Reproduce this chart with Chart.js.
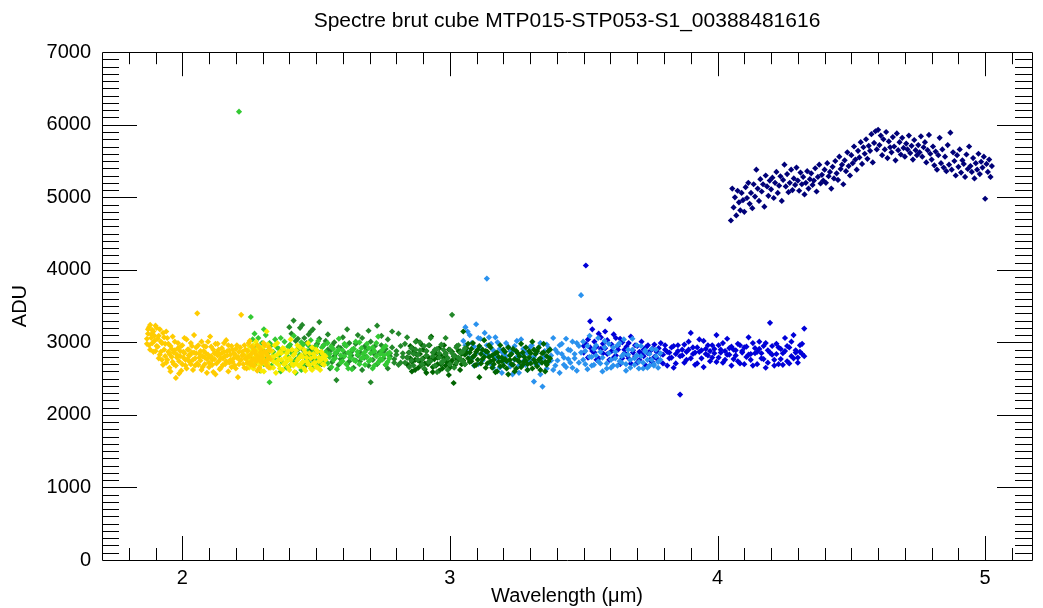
<!DOCTYPE html>
<html>
<head>
<meta charset="utf-8">
<script src="https://cdn.jsdelivr.net/npm/chart.js@4.4.1/dist/chart.umd.min.js"></script>
<style>
  body { margin: 0; background: #fff; }
</style>
</head>
<body>
<canvas id="myChart" width="1043" height="608"></canvas>
<script>
const titleText = 'Spectre brut cube MTP015-STP053-S1_00388481616';
const xTitle = 'Wavelength (\u03bcm)';
const yTitle = 'ADU';
const xTicks = [2, 3, 4, 5];
const yTicks = [0, 1000, 2000, 3000, 4000, 5000, 6000, 7000];

// gold channel (two readings per wavelength)
const goldX = [1.868,1.872,1.876,1.880,1.884,1.888,1.892,1.896,1.900,1.904,
  1.908,1.912,1.916,1.920,1.924,1.928,1.932,1.936,1.940,1.944,
  1.948,1.952,1.956,1.960,1.964,1.968,1.972,1.976,1.980,1.984,
  1.988,1.992,1.996,2.000,2.004,2.008,2.012,2.016,2.020,2.024,
  2.028,2.032,2.036,2.040,2.044,2.048,2.052,2.056,2.060,2.064,
  2.068,2.072,2.076,2.080,2.084,2.088,2.092,2.096,2.100,2.104,
  2.108,2.112,2.116,2.120,2.124,2.128,2.132,2.136,2.140,2.144,
  2.148,2.152,2.156,2.160,2.164,2.168,2.172,2.176,2.180,2.184,
  2.188,2.192,2.196,2.200,2.204,2.208,2.212,2.216,2.220,2.224,
  2.228,2.232,2.236,2.240,2.244,2.248,2.252,2.256,2.260,2.264,
  2.268,2.272,2.276,2.280,2.284,2.288,2.292,2.296,2.300,2.304,
  2.308,2.312,2.316,2.320,2.324,2.328];
const goldY = [3050,3180,2960,3240,3110,2990,3150,3020,2880,3200,
  2940,3090,2830,3010,2760,3130,2900,2980,2720,3060,
  2870,2650,2950,2800,3080,2700,2890,2510,2830,2990,
  2740,2880,2610,2960,2790,2850,2680,3040,2770,2900,
  2820,2700,2950,2620,2860,2780,2930,3400,2690,2840,
  2750,3010,2660,2880,2790,2940,2580,2830,2720,3080,
  2810,2690,2900,2770,2560,2860,2980,2740,2840,2650,
  2920,2780,2870,2700,3030,2820,2600,2890,2760,2950,
  2730,2850,2680,2910,2790,2520,2870,2750,3380,2820,
  2700,2960,2780,2640,2880,2810,3020,2730,2850,2690,
  2900,2770,2830,2610,2950,2760,2860,2720,2800,2990,
  2740,2870,2680,2810,2930,2770];
const goldY2 = [2980,3120,3210,2900,3060,3170,2870,3090,3230,2950,
  3050,2780,3180,2870,2990,2690,3070,2810,3150,2760,
  2980,2840,2600,2910,2730,2860,3010,2680,2790,2920,
  2570,2810,2950,2700,2870,3060,2760,2640,2900,2820,
  2730,2990,2860,2760,3100,2680,2850,2710,2960,2790,
  2880,2620,2810,2950,2700,2850,2770,3010,2660,2800,
  2940,2760,2590,2850,2980,2710,2820,2900,2630,2780,
  2850,2690,2990,2810,2740,2880,2960,2720,2830,2660,
  2900,2780,2840,2640,2960,2800,2700,2930,2760,2870,
  2830,2650,2900,2780,2720,2990,2810,2690,2940,2770,
  2680,2880,2740,2960,2800,2650,2910,2820,2730,2870,
  2960,2720,2840,2770,2650,2890];

// yellow channel
const yellowX = [2.240,2.245,2.250,2.255,2.260,2.265,2.270,2.275,2.280,2.285,
  2.290,2.295,2.300,2.305,2.310,2.315,2.320,2.325,2.330,2.335,
  2.340,2.345,2.350,2.355,2.360,2.365,2.370,2.375,2.380,2.385,
  2.390,2.395,2.400,2.405,2.410,2.415,2.420,2.425,2.430,2.435,
  2.440,2.445,2.450,2.455,2.460,2.465,2.470,2.475,2.480,2.485,
  2.490,2.495,2.500,2.505,2.510,2.515,2.520,2.525,2.530,2.535];
const yellowY = [2820,2700,2950,2760,2880,2640,2790,3010,2730,2860,
  2680,2920,2770,2600,2840,3150,2710,2890,2650,2800,
  2740,2960,2580,2830,2690,2870,2760,2620,2910,2720,
  2850,2660,2780,3040,2700,2820,2590,2890,2750,2680,
  2930,2710,2800,2640,2860,2740,2990,2690,2780,2620,
  2840,2720,2900,2660,2790,2750,2870,2700,2810,2760];
const yellowY2 = [2760,2890,2650,2830,2720,2960,2680,2800,2910,2740,
  2850,2610,2780,2940,2700,2830,2970,2660,2790,2880,
  2650,2810,2720,2990,2760,2640,2850,2920,2700,2790,
  2730,2880,2620,2760,2900,2680,2840,2710,2960,2780,
  2670,2820,2730,2900,2610,2790,2700,2850,2640,2930,
  2710,2800,2660,2870,2740,2620,2780,2840,2690,2810];

// light green channel (first entry is the isolated spike)
const limeX = [2.212,2.256,2.263,2.270,2.277,2.284,2.291,2.298,2.305,2.312,2.319,
  2.326,2.333,2.340,2.347,2.354,2.361,2.368,2.375,2.382,2.389,
  2.396,2.403,2.410,2.417,2.424,2.431,2.438,2.445,2.452,2.459,
  2.466,2.473,2.480,2.487,2.494,2.501,2.508,2.515,2.522,2.529,
  2.536,2.543,2.550,2.557,2.564,2.571,2.578,2.585,2.592,2.599,
  2.606,2.613,2.620,2.627,2.634,2.641,2.648,2.655,2.662,2.669,
  2.676,2.683,2.690,2.697,2.704,2.711,2.718,2.725,2.732,2.739,
  2.746,2.753,2.760,2.767,2.774];
const limeY = [6180,3350,2930,3120,2850,3060,2780,2990,2700,3100,2880,
  2450,2960,2820,3040,2740,2910,2600,2870,3010,2790,
  2940,2680,2850,3090,2760,2900,2830,2620,2970,2810,
  2880,2720,3030,2850,2770,2950,2690,2860,2930,2800,
  2740,2990,2840,2660,2910,2780,2870,3050,2720,2890,
  2810,2950,2640,2840,2900,2760,3010,2830,2700,2920,
  2790,2870,2980,2740,2850,2930,2680,2810,3080,2770,
  2890,2820,2950,2730,2860];
const limeY2 = [null,2780,3040,2700,2960,2830,2610,2900,3180,2760,2850,
  2990,2680,2870,2760,2930,2820,3060,2720,2880,2650,
  2800,2970,2740,2860,2580,2910,2790,3000,2700,2860,
  2760,2950,2830,2650,2900,2780,3020,2740,2820,2960,
  2870,2710,2800,2940,2760,2850,2630,2900,2820,2740,
  2980,2700,2860,2790,2630,2910,2740,2870,3000,2780,
  2840,2690,2800,2920,2760,2640,2880,2990,2720,2840,
  2760,2930,2690,2840,2780];

// green channel
const forestX = [2.400,2.408,2.416,2.424,2.432,2.440,2.448,2.456,2.464,2.472,
  2.480,2.488,2.496,2.504,2.512,2.520,2.528,2.536,2.544,2.552,
  2.560,2.568,2.576,2.584,2.592,2.600,2.608,2.616,2.624,2.632,
  2.640,2.648,2.656,2.664,2.672,2.680,2.688,2.696,2.704,2.712,
  2.720,2.728,2.736,2.744,2.752,2.760,2.768,2.776,2.784,2.792,
  2.800,2.808,2.816,2.824,2.832,2.840,2.848,2.856,2.864,2.872,
  2.880,2.888,2.896,2.904,2.912,2.920,2.928,2.936,2.944,2.952,
  2.960,2.968,2.976,2.984,2.992,3.000,3.008,3.016,3.024,3.032,
  3.040,3.048,3.056];
const forestY = [3210,2880,3300,2760,3050,2940,3240,2820,2690,3110,
  2900,3180,2780,2980,3280,2850,2720,3020,2900,2640,
  2960,2810,2480,2930,2770,3070,2850,2700,2990,2820,
  2910,2750,3100,2860,2620,2940,2800,3160,2450,2890,
  2830,3230,2740,2960,2870,2690,3040,2810,2930,2770,
  2880,3120,2720,2850,2980,2790,2660,2920,2840,3010,
  2760,2890,2700,2950,2820,2730,3060,2860,2680,2910,
  2790,2970,2750,2840,2620,2900,3380,2810,2720,2960,
  2770,2870,2700];
const forestY2 = [2950,3120,2840,3020,2780,3200,2910,3060,2990,2830,
  3150,2760,2940,2870,3050,2700,2960,2810,3110,2880,
  2730,3000,2850,2690,2920,2790,2960,3180,2740,2870,
  2650,2980,2820,2740,3060,2790,2910,2680,3010,2760,
  2950,2700,2860,3090,2780,2910,2640,2850,3150,2720,
  2830,2690,2950,2800,2720,3070,2860,2750,2680,2900,
  2830,3000,2770,2640,2880,2960,2740,2810,2900,2590,
  2850,2720,2900,3060,2780,2700,2850,2650,2930,2790,
  2860,2740,2920];

// dark green channel
const darkX = [2.840,2.846,2.852,2.858,2.864,2.870,2.876,2.882,2.888,2.894,
  2.900,2.906,2.912,2.918,2.924,2.930,2.936,2.942,2.948,2.954,
  2.960,2.966,2.972,2.978,2.984,2.990,2.996,3.002,3.008,3.014,
  3.020,3.026,3.032,3.038,3.044,3.050,3.056,3.062,3.068,3.074,
  3.080,3.086,3.092,3.098,3.104,3.110,3.116,3.122,3.128,3.134,
  3.140,3.146,3.152,3.158,3.164,3.170,3.176,3.182,3.188,3.194,
  3.200,3.206,3.212,3.218,3.224,3.230,3.236,3.242,3.248,3.254,
  3.260,3.266,3.272,3.278,3.284,3.290,3.296,3.302,3.308,3.314,
  3.320,3.326,3.332,3.338,3.344,3.350,3.356,3.362,3.368,3.374];
const darkY = [2790,2680,2950,2730,2860,2620,3020,2750,2840,2690,
  2900,2710,2580,2800,2740,3080,2660,2770,2850,2700,
  2610,2820,2730,2960,2680,2790,2550,2720,2870,2440,
  2810,2950,2760,2880,2700,3150,2830,2920,2780,2860,
  2740,2990,2820,2690,2900,2520,2840,2770,3030,2880,
  2710,2800,2930,2650,2760,2850,2600,2730,2960,2790,
  2680,2870,2740,2560,2820,2700,2910,2770,2640,2850,
  2730,2980,2690,2800,2750,2620,2880,2710,3010,2760,
  2840,2670,2930,2780,2720,2860,2600,2810,2740,2900];
const darkY2 = [2700,2860,2780,2600,2910,2760,2830,2650,2740,2970,
  2780,2630,2880,2700,2960,2760,2590,2850,2680,2790,
  2920,2700,2640,2780,2850,2730,2900,2660,2750,2810,
  2690,2770,2880,2620,2840,2750,2700,2860,2980,2730,
  2910,2800,2680,2870,2760,2950,2710,2900,2800,2650,
  2870,2960,2740,2820,2700,2590,2860,2800,2670,2740,
  2900,2770,2640,2930,2760,2840,2690,2600,2880,2750,
  2810,2660,2860,2740,2930,2700,2790,2850,2640,2900,
  2720,2880,2760,2620,2850,2980,2730,2690,2880,2780];

// light blue channel
const skyX = [3.050,3.058,3.066,3.074,3.082,3.090,3.098,3.106,3.114,3.122,
  3.130,3.138,3.146,3.154,3.162,3.170,3.178,3.186,3.194,3.202,
  3.210,3.218,3.226,3.234,3.242,3.250,3.258,3.266,3.274,3.282,
  3.290,3.298,3.306,3.314,3.322,3.330,3.338,3.346,3.354,3.362,
  3.370,3.378,3.386,3.394,3.402,3.410,3.418,3.426,3.434,3.442,
  3.450,3.458,3.466,3.474,3.482,3.490,3.498,3.506,3.514,3.522,
  3.530,3.538,3.546,3.554,3.562,3.570,3.578,3.586,3.594,3.602,
  3.610,3.618,3.626,3.634,3.642,3.650,3.658,3.666,3.674,3.682,
  3.690,3.698,3.706,3.714,3.722,3.730,3.738,3.746,3.754,3.762,
  3.770,3.778,3.786];
const skyY = [3020,3210,2860,3100,2780,2940,3250,2700,3050,2890,
  3130,3880,2820,2980,2650,3070,2760,2910,2580,2840,
  2990,2720,2880,2560,2950,2800,2680,3040,2740,2870,
  2620,2930,2780,2460,2850,2700,2990,2390,2810,2640,
  2920,2750,3060,2680,2860,2580,2980,2790,2660,2900,
  2720,3010,2840,2610,2950,3650,2760,2880,2630,3090,
  2800,2690,2960,2740,2870,2600,3020,2710,2850,2650,
  2930,2780,2680,2990,2720,2840,2610,2900,2760,3050,
  2690,2820,2730,2950,2640,2870,2760,2680,2910,2700,
  2810,2650,2760];
const skyY2 = [2880,2960,3150,2780,2990,2680,2850,3060,2920,2750,
  2840,2960,3070,2700,2890,2800,3000,2650,2870,2730,
  2810,2940,2670,2870,2760,3020,2580,2830,2910,2690,
  2850,2740,2960,2800,2690,2920,2560,2780,2880,2970,
  2730,2820,2620,2900,2750,2960,2840,2690,3050,2770,
  2890,2650,2780,2990,2720,2860,3010,2700,2950,2800,
  2680,2910,2820,3060,2710,2790,2930,2640,2980,2760,
  2680,2870,2960,2740,2810,3040,2700,2830,2650,2900,
  2780,2960,2640,2810,2720,2890,2650,2840,2760,2680,
  2900,2730,2850];

// blue channel
const blueX = [3.500,3.508,3.516,3.524,3.532,3.540,3.548,3.556,3.564,3.572,
  3.580,3.588,3.596,3.604,3.612,3.620,3.628,3.636,3.644,3.652,
  3.660,3.668,3.676,3.684,3.692,3.700,3.708,3.716,3.724,3.732,
  3.740,3.748,3.756,3.764,3.772,3.780,3.788,3.796,3.804,3.812,
  3.820,3.828,3.836,3.844,3.852,3.860,3.868,3.876,3.884,3.892,
  3.900,3.908,3.916,3.924,3.932,3.940,3.948,3.956,3.964,3.972,
  3.980,3.988,3.996,4.004,4.012,4.020,4.028,4.036,4.044,4.052,
  4.060,4.068,4.076,4.084,4.092,4.100,4.108,4.116,4.124,4.132,
  4.140,4.148,4.156,4.164,4.172,4.180,4.188,4.196,4.204,4.212,
  4.220,4.228,4.236,4.244,4.252,4.260,4.268,4.276,4.284,4.292,
  4.300,4.308,4.316,4.324];
const blueY = [2950,4060,3040,3290,2880,3010,2760,3120,2910,2980,
  3150,2840,3320,2970,2790,3060,2900,2700,3000,2850,
  2940,2780,3080,2890,2960,2720,2870,3010,2810,2930,
  2850,2760,2910,2800,2870,2740,2990,2830,2900,2680,
  2860,2790,2950,2710,2880,2280,2820,2970,2760,2900,
  3130,2840,2690,2930,2870,2780,3020,2910,2820,2740,
  2960,2850,3100,2790,2900,2720,2880,3050,2830,2940,
  2770,2890,2980,2710,2860,2930,2800,3070,2840,2680,
  2920,2870,3010,2780,2950,2650,2890,3270,2830,2760,
  2980,2700,2910,2850,3060,2740,2930,2810,3100,2890,
  2790,2960,2840,3190];
const blueY2 = [2860,2980,2790,2930,3180,2860,2940,2780,3070,2850,
  2920,3030,2760,2880,3110,2820,2950,3050,2780,2900,
  2830,2990,2710,2860,2800,2950,2760,2840,2900,2680,
  2960,2880,2730,2970,2780,2920,2840,2710,2960,2870,
  2780,2930,2650,2840,2960,2810,2900,2720,2870,3010,
  2780,2930,2860,2710,3040,2890,2660,2840,2960,2880,
  2790,2910,2730,2960,2860,2990,2760,2830,2920,2680,
  2900,2820,2740,2960,2880,2700,2940,2830,2760,2990,
  2850,2700,2910,2850,2770,2990,2720,2860,2950,2680,
  2840,2930,2770,2690,2880,2950,2710,3010,2780,2860,
  2720,2870,2980,2810];

// navy channel
const navyX = [4.050,4.055,4.060,4.065,4.070,4.075,4.080,4.085,4.090,4.095,
  4.100,4.105,4.110,4.115,4.120,4.125,4.130,4.135,4.140,4.145,
  4.150,4.155,4.160,4.165,4.170,4.175,4.180,4.185,4.190,4.195,
  4.200,4.205,4.210,4.215,4.220,4.225,4.230,4.235,4.240,4.245,
  4.250,4.255,4.260,4.265,4.270,4.275,4.280,4.285,4.290,4.295,
  4.300,4.305,4.310,4.315,4.320,4.325,4.330,4.335,4.340,4.345,
  4.350,4.355,4.360,4.365,4.370,4.375,4.380,4.385,4.390,4.395,
  4.400,4.405,4.410,4.415,4.420,4.425,4.430,4.435,4.440,4.445,
  4.450,4.455,4.460,4.465,4.470,4.475,4.480,4.485,4.490,4.495,
  4.500,4.505,4.510,4.515,4.520,4.525,4.530,4.535,4.540,4.545,
  4.550,4.555,4.560,4.565,4.570,4.575,4.580,4.585,4.590,4.595,
  4.600,4.605,4.610,4.615,4.620,4.625,4.630,4.635,4.640,4.645,
  4.650,4.655,4.660,4.665,4.670,4.675,4.680,4.685,4.690,4.695,
  4.700,4.705,4.710,4.715,4.720,4.725,4.730,4.735,4.740,4.745,
  4.750,4.755,4.760,4.765,4.770,4.775,4.780,4.785,4.790,4.795,
  4.800,4.805,4.810,4.815,4.820,4.825,4.830,4.835,4.840,4.845,
  4.850,4.855,4.860,4.865,4.870,4.875,4.880,4.885,4.890,4.895,
  4.900,4.905,4.910,4.915,4.920,4.925,4.930,4.935,4.940,4.945,
  4.950,4.955,4.960,4.965,4.970,4.975,4.980,4.985,4.990,4.995,
  5.000,5.005,5.010,5.015,5.020,5.025];
const navyY = [4680,5120,4860,5000,4750,5090,4930,4820,5060,4960,
  4800,5140,4990,5200,4910,5060,4850,5180,5010,5380,
  5120,4950,5250,5080,5180,4870,5300,5150,5020,5230,
  5110,5270,4990,5200,5350,5060,5160,5290,4950,5240,
  5450,5150,5320,5070,5200,5380,5100,5260,5170,5410,
  5230,5090,5340,5180,5280,5040,5200,5360,5120,5250,
  5330,5170,5230,5400,5080,5280,5450,5190,5310,5230,
  5380,5200,5470,5290,5350,5120,5420,5260,5500,5330,
  5240,5560,5390,5450,5180,5510,5360,5620,5430,5300,
  5580,5470,5700,5520,5380,5640,5550,5760,5460,5690,
  5600,5800,5530,5710,5640,5870,5480,5750,5910,5660,
  5930,5720,5850,5580,5800,5660,5900,5540,5770,5690,
  5620,5830,5700,5510,5880,5650,5760,5590,5820,5680,
  5560,5740,5660,5850,5610,5710,5520,5790,5650,5580,
  5720,5620,5840,5560,5690,5760,5480,5650,5860,5600,
  5520,5700,5440,5630,5380,5580,5820,5470,5660,5410,
  5560,5360,5720,5450,5890,5380,5620,5500,5300,5580,
  5420,5660,5340,5510,5460,5280,5590,5390,5700,5430,
  5350,5540,5260,5470,5380,5600,5320,5490,5410,5560,
  4980,5460,5350,5520,5280,5430];

const series = [
  { x: goldX, ys: [goldY, goldY2], color: '#FFCC00' },
  { x: yellowX, ys: [yellowY, yellowY2], color: '#F8EC00' },
  { x: limeX, ys: [limeY, limeY2], color: '#33C933' },
  { x: forestX, ys: [forestY, forestY2], color: '#23882A' },
  { x: darkX, ys: [darkY, darkY2], color: '#006400' },
  { x: skyX, ys: [skyY, skyY2], color: '#2A92EE' },
  { x: blueX, ys: [blueY, blueY2], color: '#0000D8' },
  { x: navyX, ys: [navyY], color: '#000078' }
];

const fontFamily = '"Liberation Sans", Arial, Helvetica, sans-serif';

// IDL-like box with inward ticks on all four sides
const idlFrame = {
  id: 'idlFrame',
  afterDatasetsDraw(chart) {
    const { ctx, chartArea: a, scales: { x, y } } = chart;
    const px = v => Math.round(x.getPixelForValue(v)) + 0.5;
    const py = v => Math.round(y.getPixelForValue(v)) + 0.5;
    ctx.save();
    ctx.strokeStyle = '#000';
    ctx.lineWidth = 1;
    ctx.beginPath();
    ctx.rect(Math.round(a.left) + 0.5, Math.round(a.top) + 0.5,
      Math.round(a.right - a.left), Math.round(a.bottom - a.top));
    // x ticks, minor every 0.1
    for (let k = Math.ceil(x.min * 10 + 1e-6); k / 10 < x.max - 1e-6; k++) {
      const len = (k % 10 === 0) ? 24 : 12;
      const X = px(k / 10);
      ctx.moveTo(X, a.bottom); ctx.lineTo(X, a.bottom - len);
      ctx.moveTo(X, a.top); ctx.lineTo(X, a.top + len);
    }
    // y ticks, minor every 100
    for (let k = Math.ceil(y.min / 100) + 1; k * 100 < y.max; k++) {
      const len = (k % 10 === 0) ? 35 : 17;
      const Y = py(k * 100);
      ctx.moveTo(a.left, Y); ctx.lineTo(a.left + len, Y);
      ctx.moveTo(a.right, Y); ctx.lineTo(a.right - len, Y);
    }
    ctx.stroke();
    ctx.restore();
  }
};

const datasets = [];
series.forEach(s => {
  s.ys.forEach(ys => {
    datasets.push({
      data: s.x.map((v, i) => ({ x: v, y: ys[i] })).filter(p => p.y !== null),
      backgroundColor: s.color,
      borderColor: s.color,
      borderWidth: 0,
      pointStyle: 'rectRot',
      pointRadius: 3.1
    });
  });
});

new Chart(document.getElementById('myChart'), {
  type: 'scatter',
  data: { datasets },
  options: {
    responsive: false,
    animation: false,
    events: [],
    layout: { padding: { left: 0, right: 11, top: 0, bottom: 0 } },
    plugins: {
      legend: { display: false },
      tooltip: { enabled: false },
      title: {
        display: true,
        text: titleText,
        fullSize: false,
        color: '#000',
        font: { family: fontFamily, size: 21, weight: 'normal' },
        padding: { top: 9, bottom: 18 }
      }
    },
    scales: {
      x: {
        type: 'linear',
        min: 1.7,
        max: 5.175,
        afterBuildTicks: s => { s.ticks = xTicks.map(v => ({ value: v })); },
        afterFit: s => { s.height = 48; },
        grid: { display: false, drawTicks: false },
        border: { display: false },
        ticks: { padding: 6, color: '#000', font: { family: fontFamily, size: 20 },
          callback: v => String(v) },
        title: { display: true, text: xTitle, color: '#000', padding: 0,
          font: { family: fontFamily, size: 20 } }
      },
      y: {
        min: 0,
        max: 7000,
        afterBuildTicks: s => { s.ticks = yTicks.map(v => ({ value: v })); },
        afterFit: s => { s.width = 102; },
        grid: { display: false, drawTicks: false },
        border: { display: false },
        ticks: { padding: 11, color: '#000', font: { family: fontFamily, size: 20 },
          callback: v => String(v) },
        title: { display: true, text: yTitle, color: '#000', padding: { top: 8, bottom: 0 },
          font: { family: fontFamily, size: 20 } }
      }
    }
  },
  plugins: [idlFrame]
});
</script>
</body>
</html>
